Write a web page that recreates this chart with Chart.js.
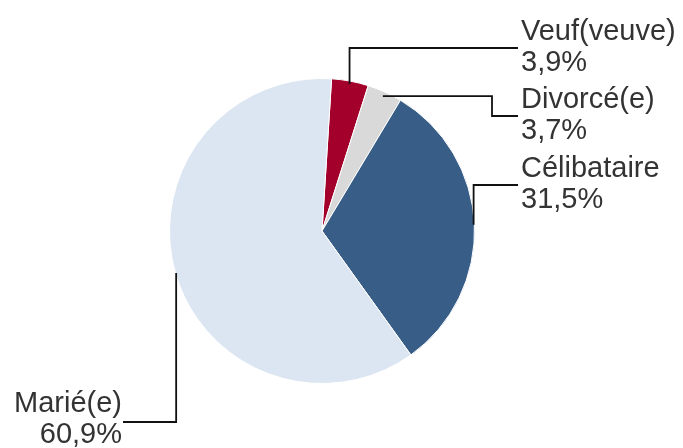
<!DOCTYPE html>
<html lang="fr">
<head>
<meta charset="utf-8">
<title>État matrimonial</title>
<script src="https://cdn.jsdelivr.net/npm/chart.js@4.4.0/dist/chart.umd.min.js"></script>
<style>
  html, body { margin: 0; padding: 0; background: #ffffff; }
  #graficoEtat { display: block; }
</style>
</head>
<body>
<canvas id="graficoEtat" width="683" height="448"></canvas>
<script>
// Données
const categories = ['Veuf(veuve)', 'Divorcé(e)', 'Célibataire', 'Marié(e)'];
const pourcentages = [3.9, 3.7, 31.5, 60.9];
const couleurs = ['#A3002B', '#D9D9D9', '#385D86', '#DCE6F2'];

// Placement des étiquettes (mise en page uniquement)
const placements = [
  { ligneY: 48, texteX: 521, texteY: 48, align: 'left', coudeX: null, rayon: 0.98 },
  { ligneY: 116, texteX: 521, texteY: 116, align: 'left', coudeX: 492, rayon: 0.97 },
  { ligneY: 185, texteX: 521, texteY: 185, align: 'left', coudeX: null, rayon: 0.995 },
  { ligneY: 422, texteX: 122, texteY: 420, align: 'right', coudeX: null, rayon: 0.995 }
];

const formatPct = (v) => v.toFixed(1).replace('.', ',') + '%';

// Plugin pour les lignes de rappel et les étiquettes
const etiquettes = {
  id: 'etiquettes',
  afterDatasetsDraw(chart) {
    const ctx = chart.ctx;
    const arcs = chart.getDatasetMeta(0).data;
    ctx.save();
    ctx.strokeStyle = '#111111';
    ctx.lineWidth = 1.8;
    ctx.font = '29px "Liberation Sans", Arial, sans-serif';
    ctx.fillStyle = '#333333';
    ctx.textBaseline = 'middle';

    arcs.forEach((arc, i) => {
      const p = placements[i];
      const { x, y, startAngle, endAngle, outerRadius } = arc.getProps(['x', 'y', 'startAngle', 'endAngle', 'outerRadius'], true);
      const milieu = (startAngle + endAngle) / 2;
      const ax = x + Math.cos(milieu) * outerRadius * p.rayon;
      const ay = y + Math.sin(milieu) * outerRadius * p.rayon;
      const finX = p.align === 'left' ? p.texteX - 3 : p.texteX + 1;

      ctx.beginPath();
      ctx.moveTo(ax, ay);
      if (p.coudeX !== null) {
        ctx.lineTo(p.coudeX, ay);
        ctx.lineTo(p.coudeX, p.ligneY);
      } else {
        ctx.lineTo(ax, p.ligneY);
      }
      ctx.lineTo(finX, p.ligneY);
      ctx.stroke();

      ctx.textAlign = p.align;
      ctx.fillText(categories[i], p.texteX, p.texteY - 16);
      ctx.fillText(formatPct(pourcentages[i]), p.texteX, p.texteY + 15);
    });
    ctx.restore();
  }
};

const ctxEtat = document.getElementById('graficoEtat').getContext('2d');

new Chart(ctxEtat, {
  type: 'pie',
  data: {
    labels: categories,
    datasets: [{
      data: pourcentages,
      backgroundColor: couleurs,
      borderColor: '#ffffff',
      borderWidth: 1
    }]
  },
  options: {
    responsive: false,
    animation: false,
    rotation: 3.6,
    layout: {
      padding: { top: 78, bottom: 64, left: 169, right: 208 }
    },
    plugins: {
      legend: { display: false },
      tooltip: { enabled: false }
    }
  },
  plugins: [etiquettes]
});
</script>
</body>
</html>
